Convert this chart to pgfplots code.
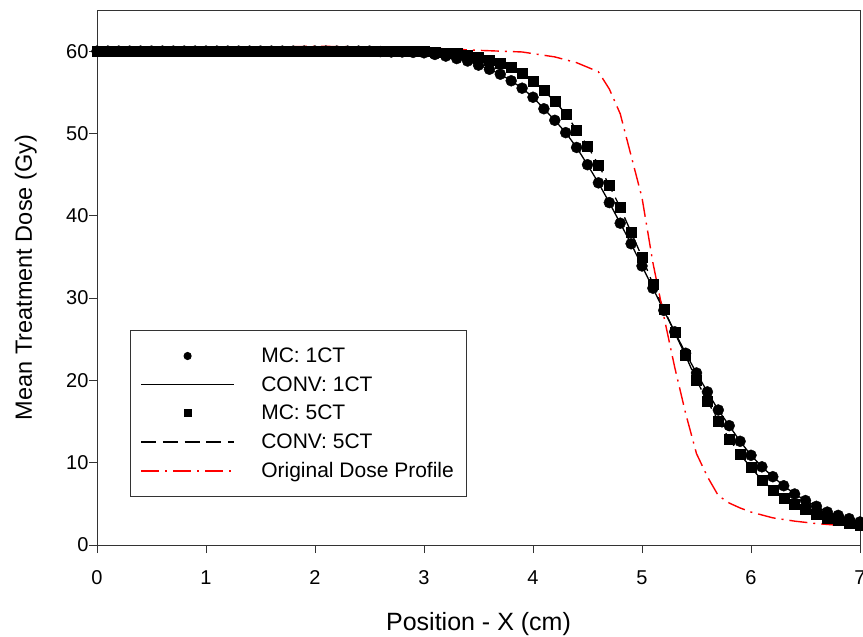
\documentclass[border=0pt]{standalone}
\usepackage{pgfplots}
\pgfplotsset{compat=1.18}
\usepackage{fontspec}
\setmainfont{Liberation Sans}
\begin{document}
\begin{tikzpicture}
\pgfplotstableread{
x y
0.0 60.0
0.1 60.0
0.2 60.0
0.3 60.0
0.4 60.0
0.5 60.0
0.6 60.0
0.7 60.0
0.8 60.0
0.9 60.0
1.0 60.0
1.1 60.0
1.2 60.0
1.3 60.0
1.4 60.0
1.5 60.0
1.6 60.0
1.7 60.0
1.8 60.0
1.9 60.0
2.0 60.0
2.1 60.0
2.2 60.0
2.3 60.0
2.4 60.0
2.5 60.0
2.6 59.95
2.7 59.9
2.8 59.9
2.9 59.85
3.0 59.8
3.1 59.6
3.2 59.4
3.3 59.1
3.4 58.8
3.5 58.3
3.6 57.8
3.7 57.2
3.8 56.4
3.9 55.5
4.0 54.4
4.1 53.0
4.2 51.6
4.3 50.1
4.4 48.3
4.5 46.2
4.6 44.0
4.7 41.6
4.8 39.1
4.9 36.6
5.0 33.9
5.1 31.2
5.2 28.5
5.3 25.9
5.4 23.3
5.5 20.9
5.6 18.6
5.7 16.4
5.8 14.5
5.9 12.6
6.0 10.9
6.1 9.5
6.2 8.3
6.3 7.2
6.4 6.2
6.5 5.4
6.6 4.7
6.7 4.0
6.8 3.6
6.9 3.2
7.0 2.8
}\mcone
\pgfplotstableread{
x y
0.0 60.0
0.1 60.0
0.2 60.0
0.3 60.0
0.4 60.0
0.5 60.0
0.6 60.0
0.7 60.0
0.8 60.0
0.9 60.0
1.0 60.0
1.1 60.0
1.2 60.0
1.3 60.0
1.4 60.0
1.5 60.0
1.6 60.0
1.7 60.0
1.8 60.0
1.9 60.0
2.0 60.0
2.1 60.0
2.2 60.0
2.3 60.0
2.4 60.0
2.5 60.0
2.6 60.0
2.7 60.0
2.8 60.0
2.9 60.0
3.0 60.0
3.1 59.9
3.2 59.8
3.3 59.7
3.4 59.5
3.5 59.3
3.6 58.9
3.7 58.5
3.8 58.0
3.9 57.3
4.0 56.4
4.1 55.2
4.2 53.9
4.3 52.4
4.4 50.4
4.5 48.5
4.6 46.2
4.7 43.7
4.8 41.0
4.9 38.0
5.0 35.0
5.1 31.7
5.2 28.7
5.3 25.8
5.4 23.0
5.5 20.0
5.6 17.5
5.7 15.1
5.8 12.9
5.9 11.0
6.0 9.4
6.1 7.9
6.2 6.7
6.3 5.7
6.4 5.0
6.5 4.3
6.6 3.7
6.7 3.3
6.8 3.0
6.9 2.7
7.0 2.4
}\mcfive
\pgfplotstableread{
x y
0.0 60.0
0.5 60.15
1.0 60.3
1.5 60.45
2.0 60.6
2.5 60.5
3.0 60.4
3.5 60.1
3.9 59.9
4.2 59.3
4.4 58.6
4.6 57.5
4.7 55.4
4.8 52.4
4.9 47.3
5.0 42.2
5.1 34.3
5.2 27.8
5.3 21.6
5.4 16.0
5.5 11.1
5.6 8.3
5.7 6.0
5.8 5.1
5.9 4.5
6.0 4.0
6.2 3.3
6.4 2.9
6.6 2.6
6.8 2.4
7.0 2.2
}\orig
\begin{axis}[
  name=ax,
  scale only axis,
  width=763bp, height=535bp,
  xmin=0, xmax=7, ymin=0, ymax=65,
  xtick={0,1,...,7}, ytick={0,10,...,60},
  axis line style={black!80, line width=1pt},
  tick style={black!80, line width=1pt},
  tick align=outside,
  major tick length=8bp,
  xtick pos=bottom, ytick pos=left,
  /pgf/number format/assume math mode=true,
  ticklabel style={font=\fontsize{20bp}{24bp}\selectfont},
  xticklabel style={yshift=-14bp},
  yticklabel style={xshift=3bp},
  xlabel={Position - X (cm)},
  ylabel={Mean Treatment Dose (Gy)},
  xlabel style={font=\fontsize{25bp}{30bp}\selectfont, at={(axis description cs:0.5,-0.1589)}, anchor=base},
  ylabel style={font=\fontsize{23.5bp}{28bp}\selectfont, at={(axis description cs:-0.0852,0.5)}, anchor=base},
  clip=false,
  legend cell align=left,
  legend image code/.code={\draw[mark repeat=2,mark phase=2,#1,mark size=3.6bp] plot coordinates {(0bp,0bp)(46.5bp,0bp)(93bp,0bp)};},
  legend style={at={(rel axis cs:0.0432,0.4019)}, anchor=north west,
    draw=black!80, line width=0.9pt,
    font=\fontsize{21bp}{25bp}\selectfont,
    inner xsep=10bp, inner ysep=15bp,
    row sep=7.5bp,
    nodes={inner sep=2.5bp}},
]
\addplot[only marks, mark=*, mark size=5.5bp, black] table {\mcone};
\addlegendentry{\hspace*{24bp}MC: 1CT}
\addplot[black, line width=1.3pt, mark=none] table {\mcone};
\addlegendentry{\hspace*{24bp}CONV: 1CT}
\addplot[only marks, mark=square*, mark size=5bp, black] table {\mcfive};
\addlegendentry{\hspace*{24bp}MC: 5CT}
\addplot[black, line width=1.3pt, mark=none, dash pattern=on 15bp off 6.7bp] table {\mcfive};
\addlegendentry{\hspace*{24bp}CONV: 5CT}
\addplot[red, line width=1.4pt, mark=none, dash pattern=on 18bp off 6bp on 2bp off 6bp] table {\orig};
\addlegendentry{\hspace*{24bp}Original Dose Profile}
\end{axis}
\path (ax.south west) ++(-97bp,-92bp) coordinate (bl);
\path (ax.north east) ++(3bp,10bp) coordinate (tr);
\pgfresetboundingbox
\path[use as bounding box] (bl) rectangle (tr);
\end{tikzpicture}
\end{document}
